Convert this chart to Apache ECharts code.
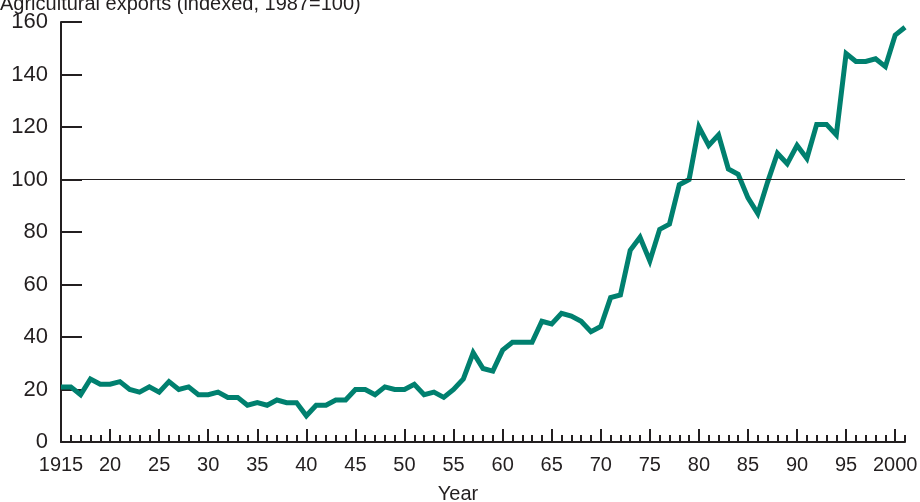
<!DOCTYPE html>
<html>
<head>
<meta charset="utf-8">
<script src="https://cdn.jsdelivr.net/npm/echarts@6/dist/echarts.min.js"></script>
<style>
  html, body { margin: 0; padding: 0; background: #fff; }
  #chart { width: 920px; height: 502px; }
</style>
</head>
<body>
<div id="chart"></div>
<script>
const years = [
  1915, 1916, 1917, 1918, 1919, 1920, 1921, 1922, 1923, 1924,
  1925, 1926, 1927, 1928, 1929, 1930, 1931, 1932, 1933, 1934,
  1935, 1936, 1937, 1938, 1939, 1940, 1941, 1942, 1943, 1944,
  1945, 1946, 1947, 1948, 1949, 1950, 1951, 1952, 1953, 1954,
  1955, 1956, 1957, 1958, 1959, 1960, 1961, 1962, 1963, 1964,
  1965, 1966, 1967, 1968, 1969, 1970, 1971, 1972, 1973, 1974,
  1975, 1976, 1977, 1978, 1979, 1980, 1981, 1982, 1983, 1984,
  1985, 1986, 1987, 1988, 1989, 1990, 1991, 1992, 1993, 1994,
  1995, 1996, 1997, 1998, 1999, 2000, 2001
];
const exportIndex = [
  21, 21, 18, 24, 22, 22, 23, 20, 19, 21,
  19, 23, 20, 21, 18, 18, 19, 17, 17, 14,
  15, 14, 16, 15, 15, 10, 14, 14, 16, 16,
  20, 20, 18, 21, 20, 20, 22, 18, 19, 17,
  20, 24, 34, 28, 27, 35, 38, 38, 38, 46,
  45, 49, 48, 46, 42, 44, 55, 56, 73, 78,
  69, 81, 83, 98, 100, 120, 113, 117, 104, 102,
  93, 87, 99, 110, 106, 113, 108, 121, 121, 117,
  148, 145, 145, 146, 143, 155, 158
];
const yTicks = [0, 20, 40, 60, 80, 100, 120, 140, 160];
const refLevel = 100;

const ink = '#231f20';
const font = 'Liberation Sans, Arial, sans-serif';

const chart = echarts.init(document.getElementById('chart'));

const xBase = {
  type: 'value',
  min: years[0],
  max: years[years.length - 1],
  position: 'bottom',
  splitLine: { show: false }
};

chart.setOption({
  animation: false,
  title: {
    text: 'Agricultural exports (indexed, 1987=100)',
    left: 0,
    top: -6,
    padding: 0,
    textStyle: { fontFamily: font, fontSize: 20, fontWeight: 'normal', color: ink }
  },
  grid: { left: 61, right: 15, top: 22, bottom: 60, containLabel: false, outerBoundsMode: 'none' },
  xAxis: [
    Object.assign({}, xBase, {
      interval: 1,
      axisLine: { show: true, lineStyle: { color: ink, width: 2 } },
      axisTick: { show: true, inside: true, length: 7, lineStyle: { color: ink, width: 2 } },
      axisLabel: { show: false }
    }),
    Object.assign({}, xBase, {
      interval: 5,
      axisLine: { show: false },
      axisTick: { show: true, inside: true, length: 13, lineStyle: { color: ink, width: 2 } },
      axisLabel: {
        show: true,
        showMaxLabel: false,
        margin: 13,
        fontFamily: font,
        fontSize: 20,
        color: ink,
        formatter: v => (v === 1915 || v === 2000) ? String(v) : (v > 2000 ? '' : String(v % 100))
      },
      name: 'Year',
      nameLocation: 'middle',
      nameGap: 42,
      nameTextStyle: { fontFamily: font, fontSize: 20, color: ink, padding: [0, 50, 0, 0] }
    })
  ],
  yAxis: {
    type: 'value',
    min: yTicks[0],
    max: yTicks[yTicks.length - 1],
    interval: 20,
    axisLine: { show: true, lineStyle: { color: ink, width: 2 } },
    axisTick: { show: true, inside: true, length: 21, lineStyle: { color: ink, width: 2 } },
    axisLabel: { margin: 13, fontFamily: font, fontSize: 22, color: ink },
    splitLine: { show: false }
  },
  series: [{
    type: 'line',
    xAxisIndex: 0,
    data: years.map((y, i) => [y, exportIndex[i]]),
    showSymbol: false,
    lineStyle: { color: '#00806f', width: 5, join: 'miter' },
    markLine: {
      silent: true,
      symbol: 'none',
      label: { show: false },
      lineStyle: { color: ink, width: 1.2, type: 'solid' },
      data: [{ yAxis: refLevel }]
    },
    z: 3
  }]
});
</script>
</body>
</html>
